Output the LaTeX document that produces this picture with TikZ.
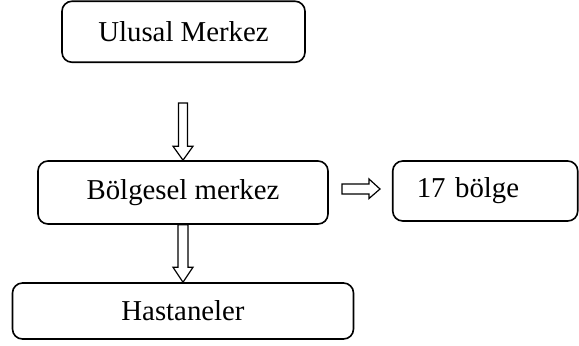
\documentclass[tikz,border=0pt]{standalone}
\usepackage{fontspec}
\setmainfont{Liberation Serif}
\usetikzlibrary{positioning,calc}

\begin{document}
\begin{tikzpicture}[x=0.5pt,y=-0.5pt,
  kutu/.style={draw,rounded corners=5pt,line width=0.8pt,inner sep=0pt,font=\fontsize{14.4}{17}\selectfont},
  okblok/.style={draw,line width=0.6pt,fill=white}]
\useasboundingbox (0,0) rectangle (579,345);
%
\node[kutu,minimum width=121.5pt,minimum height=30.5pt] (ulusal) at (183.5,31.75) {Ulusal Merkez};
\node[kutu,minimum width=145pt,minimum height=31.5pt] (bolgesel) at (183,192.5) {Bölgesel merkez};
\node[kutu,minimum width=92.5pt,minimum height=30pt,text width=68.5pt,align=left,inner xsep=12pt] (bolge) at (485.25,191) {17 bölge};
\node[kutu,minimum width=170.5pt,minimum height=28pt] (hastane) at (183,311) {Hastaneler};
%
\coordinate (ok1) at (183,103);
\coordinate (ok2a) at (342,189);
\coordinate (ok2b) at (380,189);
%
\draw[okblok] ($(ok1)+(-4.5,0)$) -- ($(bolgesel.north)+(-4.5,-14)$) -- ($(bolgesel.north)+(-10,-14)$) -- (bolgesel.north) -- ($(bolgesel.north)+(10,-14)$) -- ($(bolgesel.north)+(4.5,-14)$) -- ($(ok1)+(4.5,0)$) -- cycle;
\draw[okblok] ($(bolgesel.south)+(-5,0)$) -- ($(hastane.north)+(-5,-15)$) -- ($(hastane.north)+(-10,-15)$) -- (hastane.north) -- ($(hastane.north)+(10,-15)$) -- ($(hastane.north)+(5,-15)$) -- ($(bolgesel.south)+(5,0)$) -- cycle;
\draw[okblok] ($(ok2a)+(0,-5)$) -- ($(ok2b)+(-11,-5)$) -- ($(ok2b)+(-11,-10)$) -- (ok2b) -- ($(ok2b)+(-11,9.5)$) -- ($(ok2b)+(-11,5)$) -- ($(ok2a)+(0,5)$) -- cycle;
\end{tikzpicture}
\end{document}
